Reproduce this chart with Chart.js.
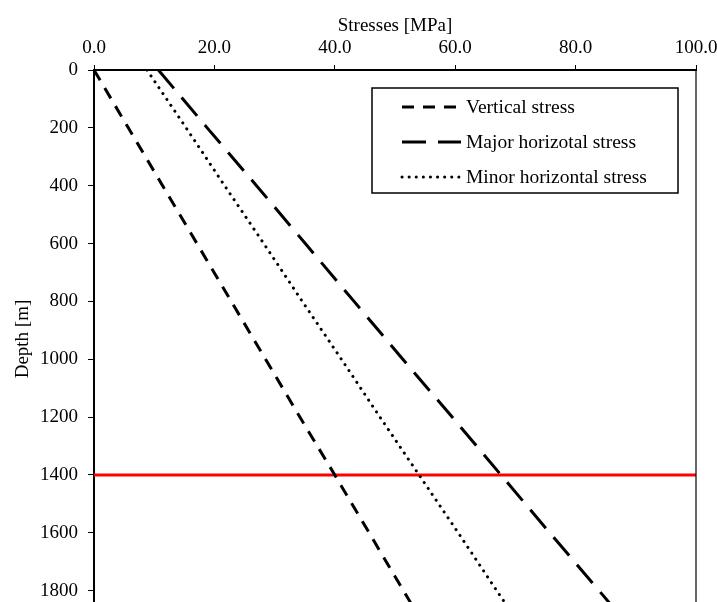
<!DOCTYPE html>
<html>
<head>
<meta charset="utf-8">
<script src="https://cdn.jsdelivr.net/npm/chart.js@4"></script>
<style>
  html, body { margin: 0; padding: 0; background: #fff; overflow: hidden; }
  #wrap { width: 717px; height: 620px; }
</style>
</head>
<body>
<div id="wrap"><canvas id="stressChart"></canvas></div>
<script>
let depths = [0, 200, 400, 600, 800, 1000, 1200, 1400, 1600, 1800, 2000];
let verticalStress = [0, 5.7, 11.4, 17.1, 22.8, 28.5, 34.2, 40.0, 45.7, 51.4, 57.1];
let majorStress = [10.7, 18.8, 27.0, 35.1, 43.2, 51.3, 59.5, 67.6, 75.7, 83.9, 92.0];
let minorStress = [8.8, 15.3, 21.7, 28.2, 34.6, 41.1, 47.5, 54.0, 60.5, 66.9, 73.4];
let seriesNames = ["Vertical stress", "Major horizotal stress", "Minor horizontal stress"];
let markerDepth = 1400;
let stressTicks = [0, 20, 40, 60, 80, 100];
let depthTicks = [0, 200, 400, 600, 800, 1000, 1200, 1400, 1600, 1800];

function toPoints(values) {
    return values.map((v, i) => ({ x: v, y: depths[i] }));
}

// keep the plot box fixed, labels may spill over the edges
function noPadding(axis) {
    axis.paddingLeft = 0;
    axis.paddingRight = 0;
    axis.paddingTop = 0;
    axis.paddingBottom = 0;
}

let font = { family: "'Liberation Serif', 'Times New Roman', serif", size: 19 };

// legend drawn inside the plot, framed like the original
let boxLegend = {
    id: "boxLegend",
    afterDraw(chart) {
        let c = chart.ctx;
        let x0 = 372, y0 = 88, w = 306, h = 105;
        c.save();
        c.fillStyle = "#fff";
        c.fillRect(x0, y0, w, h);
        c.strokeStyle = "#000";
        c.lineWidth = 1.5;
        c.strokeRect(x0, y0, w, h);
        c.font = "19.5px " + font.family;
        c.textBaseline = "middle";
        c.fillStyle = "#000";
        let rows = [107, 142, 177];
        for (let i = 0; i < 3; i++) {
            let ds = chart.data.datasets[i];
            c.beginPath();
            c.setLineDash(ds.borderDash);
            c.lineCap = ds.borderCapStyle;
            c.lineWidth = ds.borderWidth;
            c.strokeStyle = ds.borderColor;
            c.moveTo(402, rows[i]);
            c.lineTo(461, rows[i]);
            c.stroke();
            c.setLineDash([]);
            c.fillText(ds.label, 466, rows[i] + 1);
        }
        c.restore();
    }
};

// right-hand frame line
let frame = {
    id: "frame",
    afterDraw(chart) {
        let a = chart.chartArea, c = chart.ctx;
        c.save();
        c.strokeStyle = "#000";
        c.lineWidth = 1.2;
        c.beginPath();
        c.moveTo(a.right, a.top);
        c.lineTo(a.right, a.bottom);
        c.stroke();
        c.restore();
    }
};

let ctx = document.getElementById("stressChart").getContext("2d");
let stressChart = new Chart(ctx, {
    type: "scatter",
    data: {
        datasets: [{
            label: seriesNames[0],
            data: toPoints(verticalStress),
            borderColor: "#000",
            borderWidth: 3,
            borderDash: [12, 9],
            borderCapStyle: "butt"
        }, {
            label: seriesNames[1],
            data: toPoints(majorStress),
            borderColor: "#000",
            borderWidth: 3,
            borderDash: [24, 12],
            borderCapStyle: "butt"
        }, {
            label: seriesNames[2],
            data: toPoints(minorStress),
            borderColor: "#000",
            borderWidth: 3,
            borderDash: [0.1, 7],
            borderCapStyle: "round"
        }, {
            label: "marker",
            data: [{ x: 0, y: markerDepth }, { x: 100, y: markerDepth }],
            borderColor: "#ff0000",
            borderWidth: 3
        }]
    },
    options: {
        responsive: true,
        maintainAspectRatio: false,
        animation: false,
        showLine: true,
        elements: { point: { radius: 0, hoverRadius: 0 }, line: { tension: 0 } },
        layout: { padding: { left: 0, right: 21, top: 0, bottom: 12 } },
        plugins: {
            legend: { display: false },
            tooltip: { enabled: false }
        },
        scales: {
            x: {
                type: "linear",
                position: "top",
                min: 0,
                max: 100,
                afterBuildTicks: axis => { axis.ticks = stressTicks.map(v => ({ value: v })); },
                afterFit: axis => { axis.height = 70; noPadding(axis); },
                ticks: {
                    color: "#000",
                    font: font,
                    padding: 6,
                    callback: v => v.toFixed(1)
                },
                grid: { drawOnChartArea: false, drawTicks: true, tickLength: 5, color: "#000", lineWidth: 1 },
                border: { display: true, color: "#000", width: 2 },
                title: { display: true, text: "Stresses [MPa]", color: "#000", font: font, padding: { top: 15, bottom: 2 } }
            },
            y: {
                type: "linear",
                reverse: true,
                min: 0,
                max: 1860,
                afterBuildTicks: axis => { axis.ticks = depthTicks.map(v => ({ value: v })); },
                afterFit: axis => { axis.width = 94; noPadding(axis); },
                ticks: { color: "#000", font: font, padding: 10, callback: v => String(v) },
                grid: { drawOnChartArea: false, drawTicks: true, tickLength: 6, color: "#000", lineWidth: 1 },
                border: { display: true, color: "#000", width: 2 },
                title: { display: true, text: "Depth [m]", color: "#000", font: font, padding: { top: 12, bottom: 4 } }
            }
        }
    },
    plugins: [boxLegend, frame]
});
</script>
</body>
</html>
